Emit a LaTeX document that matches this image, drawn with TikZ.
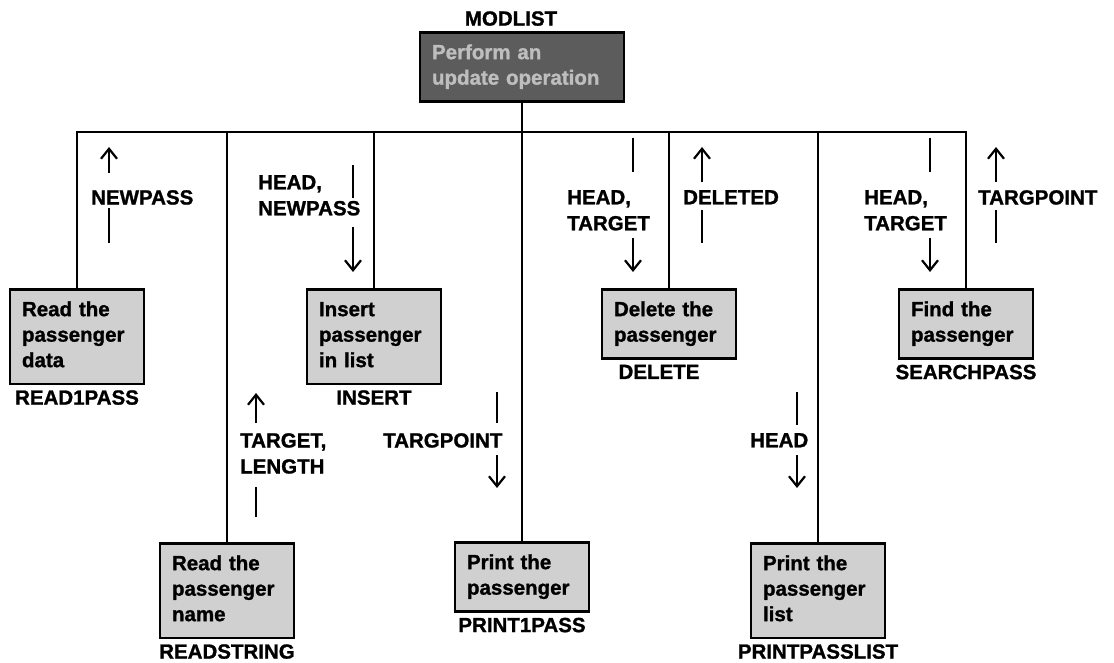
\documentclass[tikz,border=0pt]{standalone}
\usepackage{fontspec}
\setmainfont{Liberation Sans}[BoldFeatures={FakeBold=1.2}]
\usetikzlibrary{positioning,arrows.meta}
\definecolor{boxgray}{HTML}{D0D0D0}
\definecolor{topgray}{HTML}{5C5C5C}
\definecolor{toptext}{HTML}{BEBEBE}
\tikzset{
  module/.style={draw, line width=2.6pt, fill=boxgray, text width=110pt, inner xsep=12pt, inner ysep=9pt,
    align=left, font=\bfseries\fontsize{20.5}{25.5}\selectfont,
    execute at begin node=\strut, execute at end node=\strut},
  modname/.style={font=\bfseries\fontsize{20.5}{24}\selectfont, inner sep=0pt},
  flowlabel/.style={font=\bfseries\fontsize{20.5}{26}\selectfont, inner sep=0pt, align=left, anchor=north west},
  tree/.style={line width=2.4pt},
  flow/.style={line width=2.2pt},
  flowtip/.style={line width=2.2pt, -{Straight Barb[length=10pt,width=16pt]}}
}
\begin{document}
\begin{tikzpicture}[x=1pt,y=-1pt]
\useasboundingbox (0,0) rectangle (1114,663);
% modules
\node[module, fill=topgray, text=toptext, text width=180pt, anchor=north] (mod) at (522,31) {Perform an\\update operation};
\node[module, anchor=north] (rd1) at (77,288) {Read the\\passenger\\data};
\node[module, anchor=north] (rds) at (227,542) {Read the\\passenger\\name};
\node[module, anchor=north] (ins) at (374,288) {Insert\\passenger\\in list};
\node[module, anchor=north] (pr1) at (522,541) {Print the\\passenger};
\node[module, anchor=north] (del) at (669,288) {Delete the\\passenger};
\node[module, anchor=north] (prl) at (818,542) {Print the\\passenger\\list};
\node[module, anchor=north] (srch) at (966,288) {Find the\\passenger};
% module names
\node[modname, above=5pt of mod, xshift=-11pt] (nMod) {MODLIST};
\node[modname, below=5pt of rd1] (nRd1) {READ1PASS};
\node[modname, below=5pt of rds] (nRds) {READSTRING};
\node[modname, below=5pt of ins] (nIns) {INSERT};
\node[modname, below=5pt of pr1] (nPr1) {PRINT1PASS};
\node[modname, below=5pt of del, xshift=-10pt] (nDel) {DELETE};
\node[modname, below=5pt of prl] (nPrl) {PRINTPASSLIST};
\node[modname, below=5pt of srch] (nSrch) {SEARCHPASS};
% tree
\coordinate (bar) at (0,132);
\draw[tree] (rd1.north) |- (srch.north |- bar) -- (srch.north);
\draw[tree] (mod.south) -- (mod.south |- pr1.north);
\draw[tree] (rds.north) -- (rds.north |- bar);
\draw[tree] (ins.north) -- (ins.north |- bar);
\draw[tree] (del.north) -- (del.north |- bar);
\draw[tree] (prl.north) -- (prl.north |- bar);
% data flow labels
\node[flowlabel] (lNewpass) at (91,190) {NEWPASS};
\node[flowlabel] (lTargLen) at (240,433) {TARGET,\\LENGTH};
\node[flowlabel] (lHeadNew) at (258,175) {HEAD,\\NEWPASS};
\node[flowlabel] (lTargpt) at (383,433) {TARGPOINT};
\node[flowlabel] (lHeadDel) at (567,190) {HEAD,\\TARGET};
\node[flowlabel] (lDeleted) at (683,190) {DELETED};
\node[flowlabel] (lHead) at (750,433) {HEAD};
\node[flowlabel] (lHeadSrch) at (864,190) {HEAD,\\TARGET};
\node[flowlabel] (lTargptUp) at (978,190) {TARGPOINT};
% data flow arrows, up
\coordinate (tNewpass) at (109,147);
\coordinate (sNewpass) at (109,243);
\draw[flow] (sNewpass) -- ++(0,-35);
\draw[flowtip] (tNewpass) ++(0,26) -- (tNewpass);
\coordinate (tTargLen) at (256,393);
\coordinate (sTargLen) at (256,517);
\draw[flow] (sTargLen) -- ++(0,-30);
\draw[flowtip] (tTargLen) ++(0,30) -- (tTargLen);
\coordinate (tDeleted) at (702,147);
\coordinate (sDeleted) at (702,243);
\draw[flow] (sDeleted) -- ++(0,-33);
\draw[flowtip] (tDeleted) ++(0,35) -- (tDeleted);
\coordinate (tTargptUp) at (996,147);
\coordinate (sTargptUp) at (996,243);
\draw[flow] (sTargptUp) -- ++(0,-33);
\draw[flowtip] (tTargptUp) ++(0,35) -- (tTargptUp);
% data flow arrows, down
\coordinate (sHeadNew) at (353,165);
\coordinate (tHeadNew) at (353,272);
\draw[flow] (sHeadNew) -- ++(0,33);
\draw[flowtip] (tHeadNew) ++(0,-45) -- (tHeadNew);
\coordinate (sTargpt) at (497,392);
\coordinate (tTargpt) at (497,488);
\draw[flow] (sTargpt) -- ++(0,31);
\draw[flowtip] (tTargpt) ++(0,-33) -- (tTargpt);
\coordinate (sHeadDel) at (633,138);
\coordinate (tHeadDel) at (633,272);
\draw[flow] (sHeadDel) -- ++(0,34);
\draw[flowtip] (tHeadDel) ++(0,-34) -- (tHeadDel);
\coordinate (sHead) at (797,392);
\coordinate (tHead) at (797,488);
\draw[flow] (sHead) -- ++(0,33);
\draw[flowtip] (tHead) ++(0,-33) -- (tHead);
\coordinate (sHeadSrch) at (930,138);
\coordinate (tHeadSrch) at (930,272);
\draw[flow] (sHeadSrch) -- ++(0,34);
\draw[flowtip] (tHeadSrch) ++(0,-34) -- (tHeadSrch);
\end{tikzpicture}
\end{document}
